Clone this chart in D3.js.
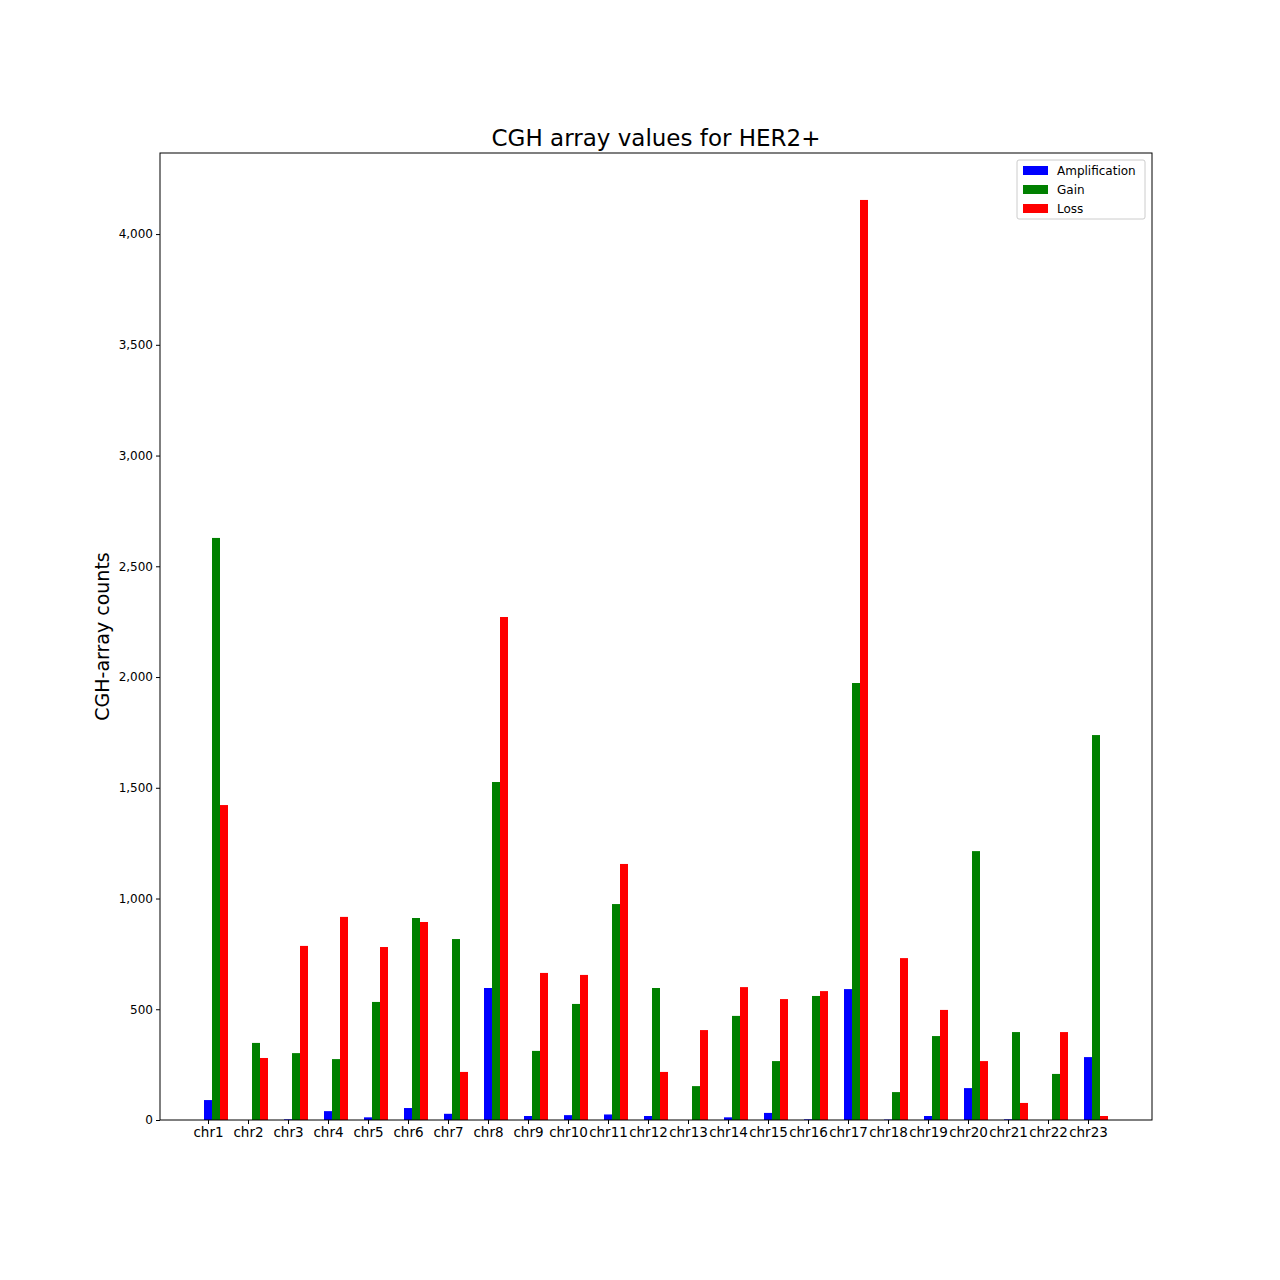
<!DOCTYPE html>
<html lang="en">
<head>
<meta charset="utf-8">
<title>CGH array values for HER2+</title>
<script src="https://cdn.jsdelivr.net/npm/d3@7"></script>
<style>
  body { margin: 0; background: #fff; font-family: "DejaVu Sans", sans-serif; }
</style>
</head>
<body>
<svg id="chart" width="1280" height="1280"></svg>
<script>
// chart data
var chroms = ["chr1","chr2","chr3","chr4","chr5","chr6","chr7","chr8","chr9","chr10","chr11","chr12",
  "chr13","chr14","chr15","chr16","chr17","chr18","chr19","chr20","chr21","chr22","chr23"];
var amplification = [90,0,3,40,12,54,28,596,18,22,25,18,0,12,32,3,591,2,18,144,3,0,284];
var gain = [2628,348,302,275,533,912,817,1526,312,524,975,596,153,470,266,560,1973,126,379,1214,397,208,1738];
var loss = [1422,280,786,917,781,894,217,2271,664,655,1156,217,406,600,546,582,4154,731,497,266,77,397,18];
var yTicks = [0,500,1000,1500,2000,2500,3000,3500,4000];

var series = [
  {name: "Amplification", values: amplification, color: "#0000ff", offset: 0},
  {name: "Gain", values: gain, color: "#008000", offset: 1},
  {name: "Loss", values: loss, color: "#ff0000", offset: 2}
];

// plot area edges (window.top is reserved, so no "top" here)
var plotLeft = 160, plotRight = 1152, plotTop = 153, plotBottom = 1120;
var barW = 8;

var svg = d3.select("#chart");

// x: one unit per chromosome, ticks under the blue bar
var x = d3.scaleLinear().domain([-1.2, 23.6]).range([plotLeft, plotRight]);
var y = d3.scaleLinear().domain([0, 4366]).range([plotBottom, plotTop]);

// bars
series.forEach(function(s) {
  svg.append("g").selectAll("rect")
    .data(s.values)
    .enter()
    .append("rect")
    .attr("x", function(d, i) { return x(i) + s.offset * barW - barW / 2; })
    .attr("y", function(d) { return y(d); })
    .attr("width", barW)
    .attr("height", function(d) { return plotBottom - y(d); })
    .attr("fill", s.color);
});

// axes
var xAxis = svg.append("g")
  .attr("transform", "translate(0," + plotBottom + ")")
  .call(d3.axisBottom(x).tickValues(d3.range(chroms.length)).tickFormat(function(i) { return chroms[i]; }).tickSizeOuter(0).tickSize(4));
xAxis.selectAll("text").style("font-size", "13.5px").style("font-family", "DejaVu Sans").attr("fill", "#000");
xAxis.select(".domain").remove();

var yAxis = svg.append("g")
  .attr("transform", "translate(" + plotLeft + ",0)")
  .call(d3.axisLeft(y).tickValues(yTicks).tickSizeOuter(0).tickSize(4));
yAxis.selectAll("text").style("font-size", "12px").style("font-family", "DejaVu Sans").attr("fill", "#000");
yAxis.select(".domain").remove();

// frame
svg.append("rect")
  .attr("x", plotLeft).attr("y", plotTop)
  .attr("width", plotRight - plotLeft).attr("height", plotBottom - plotTop)
  .attr("fill", "none").attr("stroke", "#000").attr("stroke-width", 1);

// title and label
svg.append("text")
  .attr("x", (plotLeft + plotRight) / 2).attr("y", 146)
  .attr("text-anchor", "middle")
  .style("font-size", "23px")
  .text("CGH array values for HER2+");

svg.append("text")
  .attr("transform", "translate(109," + (plotTop + plotBottom) / 2 + ") rotate(-90)")
  .attr("text-anchor", "middle")
  .style("font-size", "19px")
  .text("CGH-array counts");

// legend
var legend = svg.append("g").attr("transform", "translate(1017,160)");
legend.append("rect")
  .attr("width", 128).attr("height", 59).attr("rx", 2)
  .attr("fill", "#fff").attr("stroke", "#ccc");
series.forEach(function(s, i) {
  legend.append("rect")
    .attr("x", 6).attr("y", 6 + i * 19)
    .attr("width", 25).attr("height", 9)
    .attr("fill", s.color);
  legend.append("text")
    .attr("x", 40).attr("y", 15 + i * 19)
    .style("font-size", "12px")
    .text(s.name);
});
</script>
</body>
</html>
